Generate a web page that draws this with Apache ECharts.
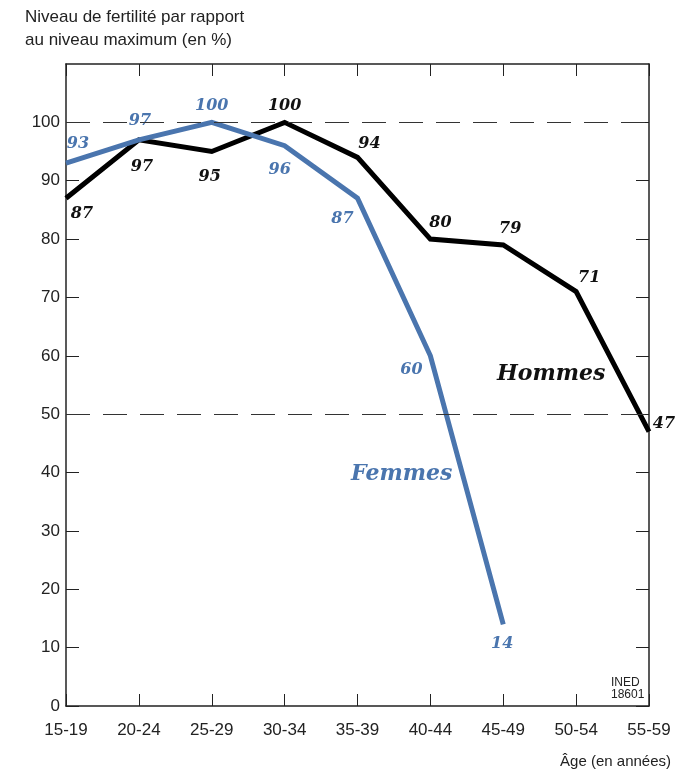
<!DOCTYPE html>
<html>
<head>
<meta charset="utf-8">
<script src="https://cdn.jsdelivr.net/npm/echarts@6/dist/echarts.min.js"></script>
<style>
  html, body { margin: 0; padding: 0; background: #fff; }
  #chart { width: 686px; height: 774px; }
</style>
</head>
<body>
<div id="chart"></div>
<script>
// tranches d'âge
const ages = ['15-19', '20-24', '25-29', '30-34', '35-39', '40-44', '45-49', '50-54', '55-59']
// niveau de fertilité (% du maximum)
const femmes = [93, 97, 100, 96, 87, 60, 14]
const hommes = [87, 97, 95, 100, 94, 80, 79, 71, 47]
// graduations de l'axe vertical
const yTicks = [0, 10, 20, 30, 40, 50, 60, 70, 80, 90, 100]
// décalage des étiquettes [dx, dy]
const femmesOffsets = [[12, -19], [1, -19], [0, -17], [-5, 24], [-15, 21], [-19, 14], [-1, 20]]
const hommesOffsets = [[16, 16], [3, 27], [-2, 25], [0, -17], [12, -14], [10, -16], [7, -16], [13, -14], [15, -8]]

const BLUE = '#4a75ae'
const serif = 'DejaVu Serif'

function withLabels (values, offsets, color) {
  return values.map((v, i) => ({
    value: v,
    label: {
      show: true,
      position: 'inside',
      offset: offsets[i],
      formatter: String(v),
      color: color,
      fontFamily: serif,
      fontStyle: 'italic',
      fontWeight: 'bold',
      fontSize: 16
    }
  }))
}

const chart = echarts.init(document.getElementById('chart'))
const option = {
  animation: false,
  backgroundColor: '#fff',
  grid: { left: 66, right: 37, top: 64, bottom: 68 },
  xAxis: [
    {
      type: 'category',
      data: ages,
      boundaryGap: false,
      axisLine: { onZero: false, lineStyle: { color: '#222', width: 1.5 } },
      axisTick: { inside: true, length: 12, lineStyle: { color: '#222' } },
      axisLabel: { color: '#222', fontFamily: 'Liberation Sans', fontSize: 17, margin: 16 }
    },
    {
      type: 'category',
      data: ages,
      position: 'top',
      boundaryGap: false,
      axisLine: { onZero: false, lineStyle: { color: '#222', width: 1.5 } },
      axisTick: { inside: true, length: 12, lineStyle: { color: '#222' } },
      axisLabel: { show: false }
    }
  ],
  yAxis: [
    {
      type: 'value',
      min: 0,
      max: 110,
      interval: 10,
      splitLine: { show: false },
      axisLine: { show: true, onZero: false, lineStyle: { color: '#222', width: 1.5 } },
      axisTick: { show: true, inside: true, length: 13, customValues: yTicks, lineStyle: { color: '#222' } },
      axisLabel: {
        color: '#222',
        fontFamily: 'Liberation Sans',
        fontSize: 17,
        margin: 6,
        customValues: yTicks
      }
    },
    {
      type: 'value',
      position: 'right',
      min: 0,
      max: 110,
      interval: 10,
      splitLine: { show: false },
      axisLine: { show: true, onZero: false, lineStyle: { color: '#222', width: 1.5 } },
      axisTick: { show: true, inside: true, length: 13, customValues: yTicks, lineStyle: { color: '#222' } },
      axisLabel: { show: false }
    }
  ],
  series: [
    {
      name: 'Hommes',
      type: 'line',
      data: withLabels(hommes, hommesOffsets, '#111'),
      symbol: 'circle',
      symbolSize: 0.1,
      lineStyle: { color: '#000', width: 5, join: 'miter' },
      itemStyle: { color: '#000' },
      z: 3,
      markLine: {
        silent: true,
        symbol: 'none',
        label: { show: false },
        lineStyle: { color: '#333', width: 1, type: [24, 13] },
        data: [{ yAxis: 100 }, { yAxis: 50 }]
      }
    },
    {
      name: 'Femmes',
      type: 'line',
      data: withLabels(femmes, femmesOffsets, BLUE),
      symbol: 'circle',
      symbolSize: 0.1,
      lineStyle: { color: BLUE, width: 5, join: 'miter' },
      itemStyle: { color: BLUE },
      z: 4
    }
  ],
  graphic: [
    {
      type: 'text', left: 25, top: 6,
      style: {
        text: 'Niveau de fertilité par rapport\nau niveau maximum (en %)',
        fill: '#222', font: '17px "Liberation Sans"', lineHeight: 23
      }
    },
    {
      type: 'text', right: 15, top: 754,
      style: { text: 'Âge (en années)', fill: '#222', font: '15px "Liberation Sans"' }
    },
    {
      type: 'text', left: 611, top: 677,
      style: { text: 'INED\n18601', fill: '#222', font: '12px "Liberation Sans"', lineHeight: 12 }
    },
    {
      type: 'text', left: 497, top: 363,
      style: { text: 'Hommes', fill: '#111', font: 'italic bold 22px "DejaVu Serif"' }
    },
    {
      type: 'text', left: 351, top: 463,
      style: { text: 'Femmes', fill: BLUE, font: 'italic bold 22px "DejaVu Serif"' }
    }
  ]
}
chart.setOption(option)
</script>
</body>
</html>
